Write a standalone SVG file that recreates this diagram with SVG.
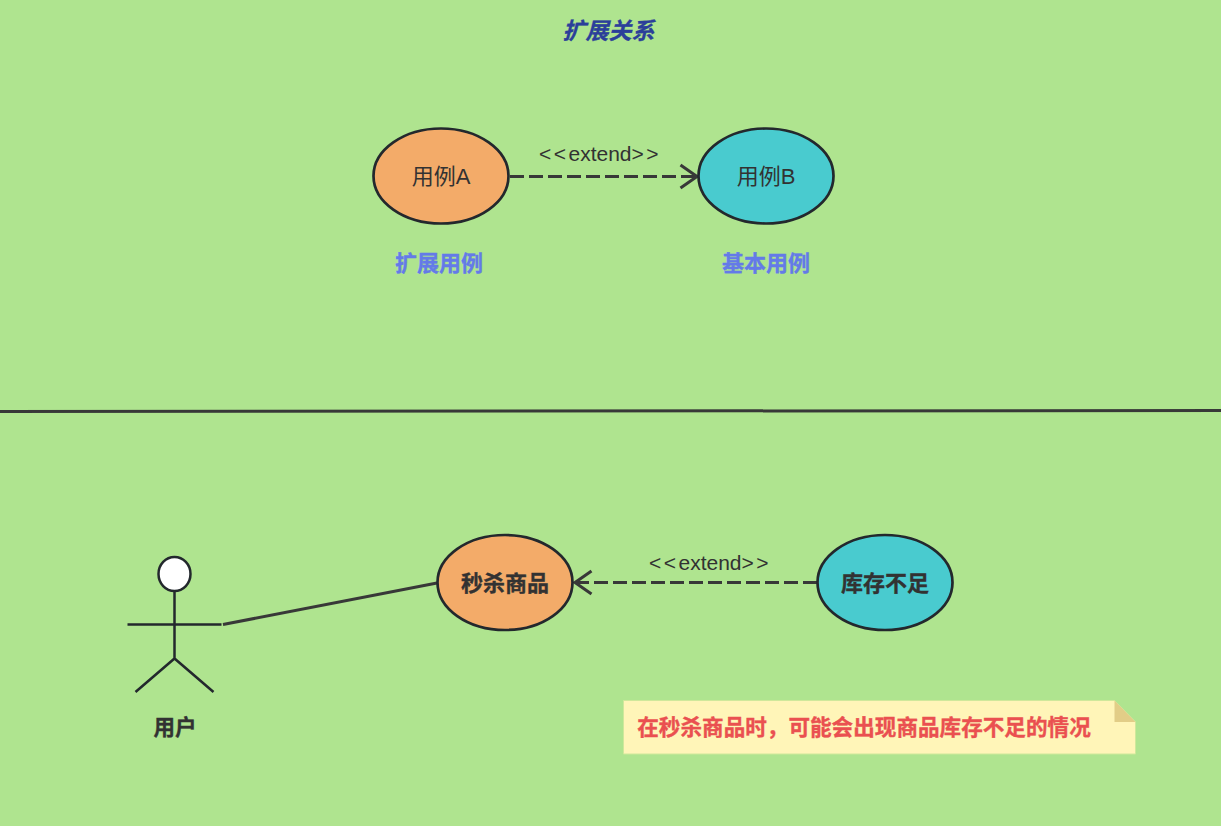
<svg xmlns="http://www.w3.org/2000/svg" width="1221" height="826" viewBox="0 0 1221 826">
<style>
text{font-family:"Liberation Sans","Noto Sans CJK SC",sans-serif;text-anchor:middle;fill:#323232}
.u{stroke:#23282d;stroke-width:2.700}
.o{fill:#f3ab69}.c{fill:#49cbcf}
.n{font-size:22px}.b{font-size:22px;font-weight:bold;stroke:#323232;stroke-width:.35px}
.l{font-size:21px}
.a{letter-spacing:2.500px}
.h{font-size:22px;font-weight:bold;fill:#647ae8;stroke:#647ae8;stroke-width:.35px}
.w{fill:none;stroke:#383838;stroke-width:3}
.d{stroke-dasharray:14 5}
.s{fill:none;stroke:#23282d;stroke-width:2.500}
</style>
<rect id="background" width="1221" height="826" fill="#afe48f"/>
<text id="title" x="608.500" y="39" style="font-size:23px;font-weight:bold;font-style:italic;fill:#2b3f9a;stroke:#2b3f9a;stroke-width:.3px">扩展关系</text>
<g id="connectors">
<path class="w d" d="M510 176.500H696"/>
<path class="w" d="M680.500 165L697 176.500L680.500 188"/>
<path class="w" d="M0 411.500L1221 410.500"/>
<path class="w" d="M223 624.500L437 583"/>
<path class="w d" d="M817 582.500H576"/>
<path class="w" d="M591.500 571L575 582.500L591.500 594"/>
<text x="600" y="161" class="l"><tspan class="a">&lt;&lt;</tspan>extend<tspan class="a">&gt;&gt;</tspan></text>
<text x="710" y="570" class="l"><tspan class="a">&lt;&lt;</tspan>extend<tspan class="a">&gt;&gt;</tspan></text>
</g>
<g id="usecase-a"><ellipse class="u o" cx="441" cy="176" rx="67.500" ry="47.500"/><text x="441" y="184" class="n">用例A</text></g>
<g id="usecase-b"><ellipse class="u c" cx="766" cy="176" rx="67.500" ry="47.500"/><text x="766" y="184" class="n">用例B</text></g>
<g id="label-extend"><text x="439" y="271" class="h">扩展用例</text></g>
<g id="label-base"><text x="766" y="271" class="h">基本用例</text></g>
<g id="actor">
<ellipse cx="174.500" cy="574" rx="16" ry="17" class="s" style="fill:#fff"/>
<path class="s" d="M174.500 591V658.500M127.500 624.500H221.500M135.500 692L174.500 658.500L213.500 692"/>
<text x="175" y="735" class="b" style="font-size:21.500px">用户</text>
</g>
<g id="usecase-seckill"><ellipse class="u o" cx="505" cy="582.500" rx="67.500" ry="47.500"/><text x="505" y="591" class="b">秒杀商品</text></g>
<g id="usecase-stock"><ellipse class="u c" cx="885" cy="582.500" rx="67.500" ry="47.500"/><text x="885" y="591" class="b">库存不足</text></g>
<g id="note">
<path d="M623.500 700.500H1114.500L1135.500 722V754H623.500Z" fill="#fff5b8" stroke="#cfe89b" stroke-width="1"/>
<path d="M1114.500 700.500L1135.500 722H1114.500Z" fill="#e2cd87"/>
<text x="864" y="735" style="font-size:21.600px;font-weight:bold;fill:#ea5050;stroke:#ea5050;stroke-width:.35px">在秒杀商品时，可能会出现商品库存不足的情况</text>
</g>
</svg>
